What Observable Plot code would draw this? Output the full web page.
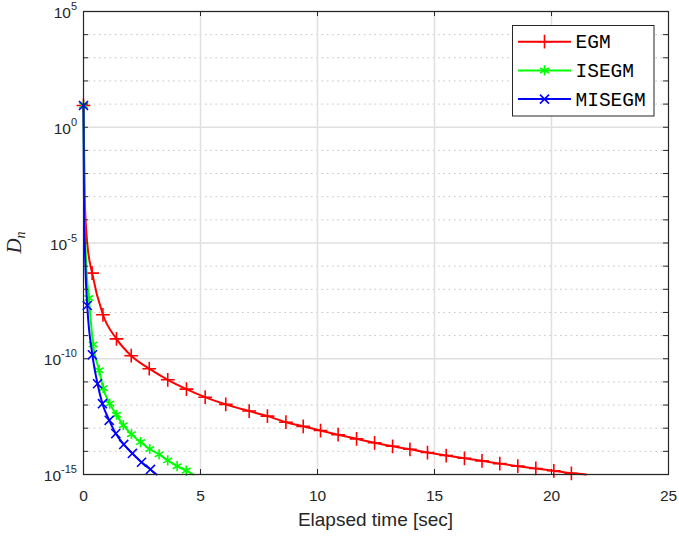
<!DOCTYPE html>
<html><head><meta charset="utf-8">
<script src="https://cdn.jsdelivr.net/npm/d3@7"></script>
<script src="https://cdn.jsdelivr.net/npm/@observablehq/plot@0.6"></script>
<style>body{margin:0;background:#fff;} svg{display:block;}</style>
</head><body><div id="chart"></div>
<script>
// ---- data (elapsed time [sec], log10 of D_n, marker flag) ----
const egmT   = [0, 0.05, 0.16, 0.37, 0.83, 1.41, 2.04, 2.81, 3.60, 4.40, 5.20, 6.08, 7.08, 7.86, 8.65, 9.39, 10.13, 10.88, 11.67, 12.44, 13.21, 13.95, 14.70, 15.50, 16.28, 17.03, 17.79, 18.56, 19.33, 20.10, 20.85, 21.48];
const egmLog = [0.94, -3.0, -5.0, -6.30, -8.10, -9.14, -9.87, -10.43, -10.91, -11.31, -11.66, -11.97, -12.26, -12.48, -12.74, -12.92, -13.10, -13.28, -13.46, -13.63, -13.78, -13.91, -14.05, -14.18, -14.30, -14.41, -14.53, -14.64, -14.74, -14.84, -14.95, -15.0];
const egmMark= [1,0,0,1,1,1,1,1,1,1,1,1,1,1,1,1,1,1,1,1,1,1,1,1,1,1,1,1,1,1,1,0];

const isegmT   = [0, 0.03, 0.12, 0.23, 0.41, 0.67, 0.84, 1.12, 1.41, 1.70, 2.05, 2.44, 2.83, 3.23, 3.60, 4.00, 4.39, 4.69];
const isegmLog = [0.94, -3.0, -6.0, -7.38, -9.38, -10.50, -11.27, -11.94, -12.42, -12.87, -13.26, -13.60, -13.90, -14.13, -14.39, -14.64, -14.83, -15.0];
const isegmMark= [1,0,0,1,1,1,1,1,1,1,1,1,1,1,1,1,1,0];

const misegmT   = [0, 0.02, 0.08, 0.16, 0.38, 0.60, 0.81, 1.10, 1.38, 1.72, 2.09, 2.48, 2.86, 3.12];
const misegmLog = [0.94, -3.0, -6.0, -7.70, -9.83, -11.08, -11.94, -12.66, -13.23, -13.70, -14.09, -14.47, -14.78, -15.0];
const misegmMark= [1,0,0,1,1,1,1,1,1,1,1,1,1,0];

const seriesNames = ["EGM", "ISEGM", "MISEGM"];
const xTicks = [0, 5, 10, 15, 20, 25];
const xGrid = [5, 10, 15, 20];
const yLabelExps = [-15, -10, -5, 0, 5];
const yDecadeExps = [-15,-14,-13,-12,-11,-10,-9,-8,-7,-6,-5,-4,-3,-2,-1,0,1,2,3,4,5];

// ---- layout / style ----
const W = 679, H = 538, mL = 83, mR = 11, mT = 11, mB = 64;
const innerW = W - mL - mR, innerH = H - mT - mB;
const colors = ["#ff0000", "#00ff00", "#0000ff"];
const symbols = ["plus", "asterisk", "times"];
const symR = [4.5, 4.8, 4.2];
const axisColor = "#262626";

function build(ts, logs, marks, name) {
  return ts.map((t, i) => ({t, D: 10 ** logs[i], m: marks[i], name}));
}
const series = [
  build(egmT, egmLog, egmMark, seriesNames[0]),
  build(isegmT, isegmLog, isegmMark, seriesNames[1]),
  build(misegmT, misegmLog, misegmMark, seriesNames[2])
];
const minorExps = yDecadeExps.filter(e => !yLabelExps.includes(e));

const marks = [
  Plot.ruleY(minorExps.map(e => 10 ** e), {stroke: "#c4c4c4", strokeWidth: 1, strokeDasharray: "1.6,3.7"}),
  Plot.ruleY(yLabelExps.map(e => 10 ** e), {stroke: "#e0e0e0", strokeWidth: 1.5}),
  Plot.ruleX(xGrid, {stroke: "#e0e0e0", strokeWidth: 1.5})
];
series.forEach((s, k) => {
  marks.push(Plot.line(s, {x: "t", y: "D", stroke: colors[k], strokeWidth: 2, curve: "monotone-x"}));
  marks.push(Plot.dot(s.filter(d => d.m), {x: "t", y: "D", symbol: symbols[k], stroke: colors[k], fill: "none", r: symR[k], strokeWidth: 1.6}));
});
marks.push(
  Plot.frame({stroke: axisColor, strokeWidth: 1.2}),
  Plot.ruleX(xTicks, {stroke: axisColor, strokeWidth: 1, insetTop: innerH - 5}),
  Plot.ruleX(xTicks, {stroke: axisColor, strokeWidth: 1, insetBottom: innerH - 5}),
  Plot.ruleY(yDecadeExps.map(e => 10 ** e), {stroke: axisColor, strokeWidth: 1, insetRight: innerW - 5}),
  Plot.ruleY(yDecadeExps.map(e => 10 ** e), {stroke: axisColor, strokeWidth: 1, insetLeft: innerW - 5}),
  Plot.axisX(xTicks, {tickSize: 0, tickPadding: 15, fontSize: 15.5, fill: axisColor, label: null, tickFormat: d => String(d)})
);

const svgEl = Plot.plot({
  width: W, height: H,
  marginLeft: mL, marginRight: mR, marginTop: mT, marginBottom: mB,
  style: {fontFamily: "'Liberation Sans', Arial, sans-serif", fontSize: "15.5px", background: "#fff", color: axisColor},
  x: {domain: [0, 25], axis: null},
  y: {type: "log", domain: [1e-15, 1e5], axis: null},
  marks
});
document.getElementById("chart").appendChild(svgEl);

const svg = d3.select(svgEl);
const yS = svgEl.scale("y");
const xS = svgEl.scale("x");

// y tick labels with superscript exponents
const yLab = svg.append("g").attr("font-family", "'Liberation Sans', Arial, sans-serif").attr("fill", axisColor);
yLabelExps.forEach(e => {
  const t = yLab.append("text").attr("x", 77).attr("y", yS.apply(10 ** e) + 7).attr("text-anchor", "end").attr("font-size", 15.5);
  t.append("tspan").text("10");
  t.append("tspan").attr("dy", -8).attr("font-size", 11).text(String(e));
});

// x title
svg.append("text").attr("x", xS.apply(12.5)).attr("y", 526).attr("text-anchor", "middle")
  .attr("font-family", "'Liberation Sans', Arial, sans-serif").attr("font-size", 19).attr("fill", axisColor)
  .text("Elapsed time [sec]");

// y title D_n
const yt = svg.append("text").attr("transform", `translate(21,${yS.apply(1e-5)}) rotate(-90)`).attr("text-anchor", "middle")
  .attr("font-family", "'Liberation Serif', 'DejaVu Serif', serif").attr("fill", axisColor);
yt.append("tspan").attr("font-style", "italic").attr("font-size", 21).text("D");
yt.append("tspan").attr("font-style", "italic").attr("font-size", 14).attr("dy", 4).text("n");

// legend
const lg = svg.append("g");
lg.append("rect").attr("x", 512.5).attr("y", 25.5).attr("width", 141.5).attr("height", 90.5)
  .attr("fill", "#fff").attr("stroke", axisColor).attr("stroke-width", 1);
const symMap = {plus: d3.symbolPlus, asterisk: d3.symbolAsterisk, times: d3.symbolTimes};
seriesNames.forEach((name, k) => {
  const cy = 41.7 + k * 28.7;
  lg.append("line").attr("x1", 518).attr("x2", 571).attr("y1", cy).attr("y2", cy).attr("stroke", colors[k]).attr("stroke-width", 2);
  const r = symR[k];
  lg.append("path").attr("transform", `translate(544.5,${cy})`).attr("d", d3.symbol(symMap[symbols[k]], r * r * Math.PI)())
    .attr("fill", "none").attr("stroke", colors[k]).attr("stroke-width", 1.6);
  lg.append("text").attr("x", 575.5).attr("y", cy + 6.5).attr("text-anchor", "start")
    .attr("font-family", "'Courier New', 'Liberation Mono', monospace")
    .attr("font-size", 19.5).attr("fill", "#000").text(name);
});
</script></body></html>
